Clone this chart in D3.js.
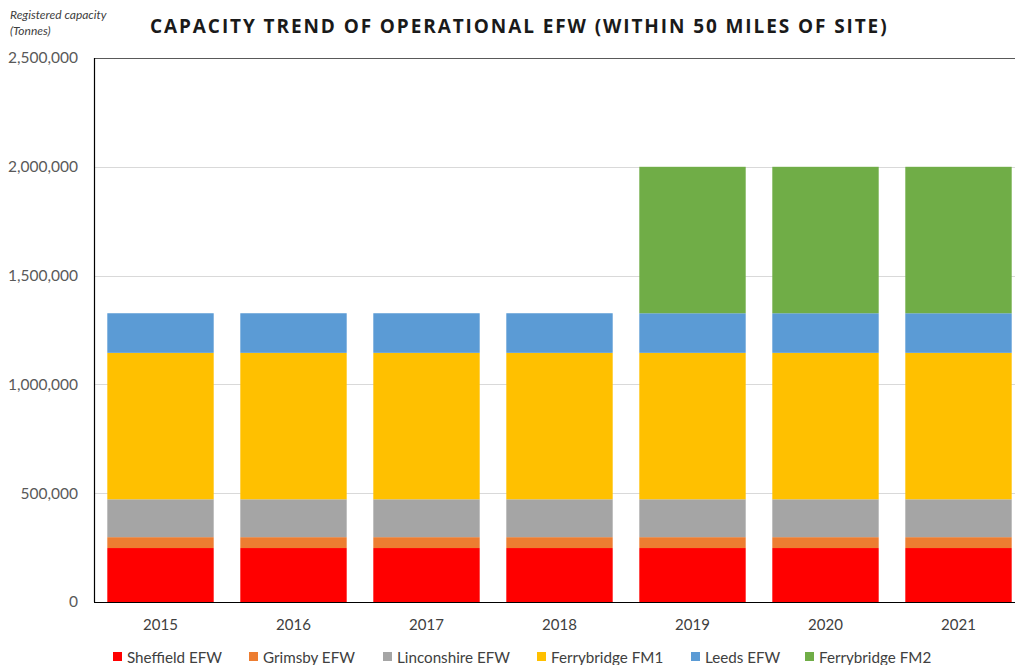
<!DOCTYPE html>
<html>
<head>
<meta charset="utf-8">
<script src="https://cdn.jsdelivr.net/npm/d3@7/dist/d3.min.js"></script>
<style>
  html, body { margin: 0; padding: 0; background: #fff; overflow: hidden; }
  svg { display: block; }
</style>
</head>
<body>
<svg id="chart" width="1015" height="665"></svg>
<script>
// Years on the x axis
const years = ["2015", "2016", "2017", "2018", "2019", "2020", "2021"];

// Registered capacity per facility (tonnes), stacked bottom to top
const sheffield   = [248000, 248000, 248000, 248000, 248000, 248000, 248000];
const grimsby     = [50000, 50000, 50000, 50000, 50000, 50000, 50000];
const linconshire = [174000, 174000, 174000, 174000, 174000, 174000, 174000];
const ferryFM1    = [673000, 673000, 673000, 673000, 673000, 673000, 673000];
const leeds       = [182000, 182000, 182000, 182000, 182000, 182000, 182000];
const ferryFM2    = [0, 0, 0, 0, 673000, 673000, 673000];

const seriesNames  = ["Sheffield EFW", "Grimsby EFW", "Linconshire EFW", "Ferrybridge FM1", "Leeds EFW", "Ferrybridge FM2"];
const seriesValues = [sheffield, grimsby, linconshire, ferryFM1, leeds, ferryFM2];
const seriesColors = ["#ff0000", "#ed7d31", "#a5a5a5", "#ffc000", "#5b9bd5", "#70ad47"];

const yTicks = [0, 500000, 1000000, 1500000, 2000000, 2500000];

const svg = d3.select("#chart");
const plot = { left: 94, top: 58, right: 1025, bottom: 602 };
const labelFont = "Lato, 'Open Sans', sans-serif";

// One row per year, keyed by series name, for d3.stack
const rows = years.map((yr, i) => {
  const r = { year: yr };
  seriesNames.forEach((n, k) => { r[n] = seriesValues[k][i]; });
  return r;
});
const stacked = d3.stack().keys(seriesNames)(rows);

const x = d3.scaleBand().domain(years).range([plot.left, plot.right]).paddingInner(0.2).paddingOuter(0.1);
const y = d3.scaleLinear().domain([0, 2500000]).range([plot.bottom, plot.top]);
const color = d3.scaleOrdinal().domain(seriesNames).range(seriesColors);

// Horizontal gridlines
svg.append("g")
  .selectAll("line")
  .data(yTicks.filter(t => t > 0 && t < 2500000))
  .join("line")
  .attr("x1", plot.left).attr("x2", plot.right)
  .attr("y1", d => Math.round(y(d)) + 0.5).attr("y2", d => Math.round(y(d)) + 0.5)
  .attr("stroke", "#d9d9d9").attr("stroke-width", 1);

// Stacked bars
svg.append("g")
  .selectAll("g")
  .data(stacked)
  .join("g")
  .attr("fill", d => color(d.key))
  .selectAll("rect")
  .data(d => d)
  .join("rect")
  .attr("x", d => x(d.data.year))
  .attr("width", x.bandwidth())
  .attr("y", d => y(d[1]))
  .attr("height", d => y(d[0]) - y(d[1]));

// Plot frame: top, left and bottom edges
svg.append("line").attr("x1", plot.left).attr("x2", plot.right)
  .attr("y1", plot.top + 0.5).attr("y2", plot.top + 0.5).attr("stroke", "#595959").attr("stroke-width", 1.2);
svg.append("line").attr("x1", plot.left + 0.5).attr("x2", plot.left + 0.5)
  .attr("y1", plot.top).attr("y2", plot.bottom).attr("stroke", "#000").attr("stroke-width", 1.2);
svg.append("line").attr("x1", plot.left).attr("x2", plot.right)
  .attr("y1", plot.bottom + 0.5).attr("y2", plot.bottom + 0.5).attr("stroke", "#000").attr("stroke-width", 1.2);

// Y axis labels
const yAxis = d3.axisLeft(y).tickValues(yTicks).tickSize(0).tickPadding(16)
  .tickFormat(d3.format(","));
const yg = svg.append("g").attr("transform", `translate(${plot.left},0)`).call(yAxis);
yg.select(".domain").remove();
yg.selectAll("text")
  .attr("font-family", labelFont)
  .attr("font-size", 15.5)
  .attr("fill", "#595959");

// X axis labels
const xAxis = d3.axisBottom(x).tickSize(0).tickPadding(17);
const xg = svg.append("g").attr("transform", `translate(0,${plot.bottom})`).call(xAxis);
xg.select(".domain").remove();
xg.selectAll("text")
  .attr("font-family", labelFont)
  .attr("font-size", 15)
  .attr("fill", "#404040");

// Axis title
const ytitle = svg.append("text")
  .attr("font-family", labelFont)
  .attr("font-style", "italic")
  .attr("font-size", 12)
  .attr("fill", "#404040");
ytitle.append("tspan").attr("x", 10).attr("y", 19).text("Registered capacity");
ytitle.append("tspan").attr("x", 10).attr("y", 35).text("(Tonnes)");

// Chart title
svg.append("text")
  .attr("x", 150).attr("y", 33)
  .attr("font-family", "'Open Sans', sans-serif")
  .attr("font-weight", "bold")
  .attr("font-size", 19)
  .attr("letter-spacing", 1.4)
  .attr("fill", "#1a1a1a")
  .attr("textLength", 738)
  .attr("lengthAdjust", "spacing")
  .text("CAPACITY TREND OF OPERATIONAL EFW (WITHIN 50 MILES OF SITE)");

// Legend
const legendX = [113, 249, 383, 537, 691, 805];
const lg = svg.append("g")
  .selectAll("g")
  .data(seriesNames)
  .join("g")
  .attr("transform", (d, i) => `translate(${legendX[i]},652)`);
lg.append("rect").attr("width", 9).attr("height", 9).attr("fill", d => color(d));
lg.append("text")
  .attr("x", 14).attr("y", 10.5)
  .attr("font-family", labelFont)
  .attr("font-size", 15.2)
  .attr("fill", "#404040")
  .text(d => d);
</script>
</body>
</html>
